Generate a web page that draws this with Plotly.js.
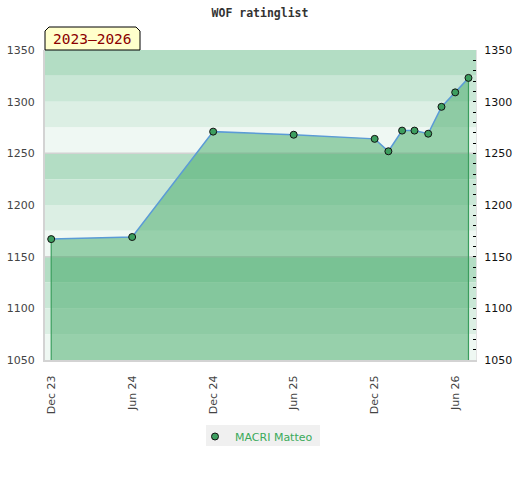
<!DOCTYPE html>
<html>
<head>
<meta charset="utf-8">
<script src="https://cdn.plot.ly/plotly-3.0.1.min.js"></script>
<style>html,body{margin:0;padding:0;background:#fff;}#chart{width:520px;height:480px;}</style>
</head>
<body>
<div id="chart"></div>
<script>
// ---- data ----
const dates = ['2023-12-01','2024-06-01','2024-12-01','2025-06-01','2025-12-01','2026-01-01','2026-02-01','2026-03-01','2026-04-01','2026-05-01','2026-06-01','2026-07-01'];
const ratings = [1167, 1169, 1271, 1268, 1264, 1252, 1272, 1272, 1269, 1295, 1309, 1323];
const playerName = 'MACRI Matteo';
const chartTitle = 'WOF ratinglist';
const periodLabel = '2023\u20132026';
const tickDates = ['2023-12-01','2024-06-01','2024-12-01','2025-06-01','2025-12-01','2026-06-01'];
const tickLabels = ['Dec 23','Jun 24','Dec 24','Jun 25','Dec 25','Jun 26'];
const yRange = [1050, 1350];
const xRange = ['2023-11-17', '2026-07-18'];
const bandColors = ['#b3ddc4', '#c9e7d6', '#dcefe4', '#eff8f3'];

// ---- background bands (every 25 points, cycle of 100) ----
const shapes = [];
for (let v = yRange[1]; v > yRange[0]; v -= 25) {
  const i = ((yRange[1] - v) / 25) % 4;
  shapes.push({type:'rect', xref:'paper', yref:'y', x0:0, x1:1, y0:v-25, y1:v,
    fillcolor:bandColors[i], line:{width:0}, layer:'below'});
}
for (let v = yRange[1] - 100; v > yRange[0]; v -= 100) {
  shapes.push({type:'line', xref:'paper', yref:'y', x0:0, x1:1, y0:v, y1:v,
    line:{color:'#d2d2d2', width:1.5}, layer:'below'});
}
// period label box with chamfered top corners
const bx1 = 95/431, by1 = 1 + 23/310, cx = 4/431, cy = 4/310;
shapes.push({type:'path', xref:'paper', yref:'paper',
  path:`M 0,1 L 0,${by1-cy} L ${cx},${by1} L ${bx1-cx},${by1} L ${bx1},${by1-cy} L ${bx1},1 Z`,
  fillcolor:'#ffffcc', line:{color:'#000', width:1}});
// legend background
shapes.push({type:'rect', xref:'paper', yref:'paper', x0:161/431, x1:275/431,
  y0:-(446-360)/310, y1:-(425-360)/310, fillcolor:'#f0f0f0', line:{width:0}, layer:'below'});

const n = dates.length - 1;
const traces = [
  {x:dates, y:ratings, type:'scatter', mode:'none', fill:'tozeroy',
   fillcolor:'rgba(64,168,100,0.5)', showlegend:false, hoverinfo:'skip'},
  {x:[dates[0], dates[0], null, dates[n], dates[n]],
   y:[yRange[0], ratings[0], null, yRange[0], ratings[n]],
   type:'scatter', mode:'lines', line:{color:'#3a9d5d', width:1.2}, showlegend:false, hoverinfo:'skip'},
  {x:dates, y:ratings, type:'scatter', mode:'lines', line:{color:'#5b9bd6', width:1.5},
   showlegend:false, hoverinfo:'skip'},
  {x:dates, y:ratings, type:'scatter', mode:'markers', name:playerName,
   marker:{color:'#3d9e5f', size:7, line:{color:'#111', width:1}}},
  {x:[], y:[], yaxis:'y2', type:'scatter', showlegend:false}
];

const layout = {
  width:520, height:480,
  margin:{l:45, r:44, t:50, b:120},
  paper_bgcolor:'#fff', plot_bgcolor:'rgba(0,0,0,0)',
  font:{family:'DejaVu Sans', size:11, color:'#444'},
  title:{text:'<b>'+chartTitle+'</b>', font:{family:'DejaVu Sans Mono', size:11.5, color:'#333'},
    x:0.5, xref:'container', y:1-13/480, yref:'container', yanchor:'middle'},
  xaxis:{type:'date', range:xRange, tickvals:tickDates, ticktext:tickLabels, tickangle:-90,
    showgrid:false, zeroline:false, showline:true, linecolor:'#d3d3d3', linewidth:2,
    ticks:'outside', ticklen:9, tickcolor:'rgba(0,0,0,0)', tickfont:{size:11, color:'#444'}},
  yaxis:{range:yRange, dtick:50, showgrid:false, zeroline:false, showline:true,
    linecolor:'#d3d3d3', linewidth:2, ticks:'outside', ticklen:6, tickcolor:'rgba(0,0,0,0)',
    tickfont:{size:11, color:'#444'}},
  yaxis2:{range:yRange, dtick:50, overlaying:'y', side:'right', showgrid:false, zeroline:false,
    showline:true, linecolor:'#e2e2e2', linewidth:1, ticks:'inside', ticklen:3, tickcolor:'#000',
    minor:{dtick:10, ticks:'inside', ticklen:3, tickcolor:'#000', showgrid:false},
    ticklabelstandoff:5, tickfont:{size:11, color:'#111'}},
  shapes:shapes,
  annotations:[{text:periodLabel, xref:'paper', yref:'paper', x:47.5/431, y:1+11/310,
    xanchor:'center', yanchor:'middle', showarrow:false,
    font:{family:'DejaVu Sans Mono', size:14.5, color:'#8b0000'}}],
  legend:{orientation:'h', x:150/431, xanchor:'left', y:-62/310, yanchor:'top',
    bgcolor:'rgba(0,0,0,0)', font:{size:11, color:'#3aaa5a'}, itemwidth:30},
  showlegend:true, hovermode:false
};

Plotly.newPlot('chart', traces, layout, {displayModeBar:false, staticPlot:true});
</script>
</body>
</html>
